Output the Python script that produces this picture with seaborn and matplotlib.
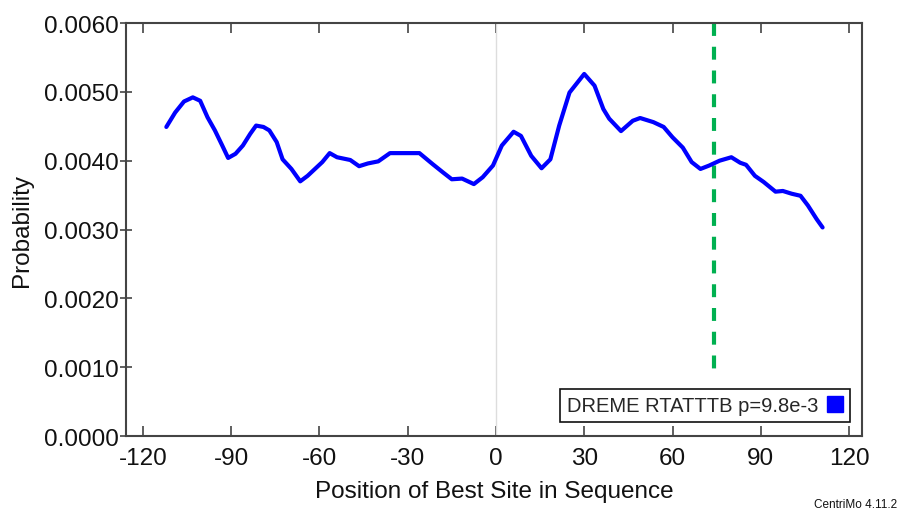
import matplotlib
matplotlib.use("Agg")
import matplotlib.pyplot as plt
import seaborn as sns
import pandas as pd
from matplotlib.patches import Patch

# ---- data ----
positions = [-112, -109, -106, -103, -100.5, -98, -95.5, -93, -91, -88.5,
             -86, -83.5, -81.5, -79, -77, -74.5, -72.5, -69.5, -66.5, -64,
             -62, -59, -56.5, -54, -49.5, -46.5, -43.5, -40, -36, -31.5,
             -26, -21.5, -18, -15, -11.5, -7.5, -4.5, -1, 2, 6,
             8.5, 12, 15.5, 18.5, 21.5, 25, 30, 33.5, 36.5, 38.5,
             42.5, 46.5, 49, 53.5, 57, 60, 63.5, 66.5, 69.5, 72.5,
             76, 80, 83, 85, 88, 91, 95, 97.5, 100.5, 103.5,
             106, 109, 111]
probability = [0.00449, 0.00470, 0.00486, 0.00492, 0.00487, 0.00463, 0.00444, 0.00422, 0.00404, 0.00410,
               0.00422, 0.00439, 0.00451, 0.00449, 0.00444, 0.00427, 0.00402, 0.00388, 0.00370, 0.00378,
               0.00386, 0.00398, 0.00411, 0.00405, 0.00401, 0.00392, 0.00396, 0.00399, 0.00411, 0.00411,
               0.00411, 0.00395, 0.00383, 0.00373, 0.00374, 0.00366, 0.00376, 0.00393, 0.00422, 0.00442,
               0.00436, 0.00407, 0.00389, 0.00402, 0.00451, 0.00499, 0.00526, 0.00509, 0.00475, 0.00461,
               0.00443, 0.00458, 0.00462, 0.00456, 0.00449, 0.00434, 0.00419, 0.00398, 0.00388, 0.00393,
               0.00400, 0.00405, 0.00397, 0.00394, 0.00378, 0.00369, 0.00355, 0.00356, 0.00352, 0.00349,
               0.00335, 0.00315, 0.00303]
series_label = "DREME RTATTTB p=9.8e-3"
best_site = 74
x_ticks = [-120, -90, -60, -30, 0, 30, 60, 90, 120]
y_ticks = [0.0, 0.001, 0.002, 0.003, 0.004, 0.005, 0.006]

sns.set_style("ticks")
plt.rcParams["font.family"] = ["Liberation Sans", "DejaVu Sans"]

df = pd.DataFrame({"pos": positions, "prob": probability})

fig = plt.figure(figsize=(9, 5.1), dpi=100)
ax = fig.add_axes([0.1397, 0.1431, 0.9578 - 0.1397, 0.9529 - 0.1431])

ax.axvline(0, color="#dddddd", lw=1, zorder=1)
sns.lineplot(data=df, x="pos", y="prob", color="#0000ff", lw=3, ax=ax, zorder=3,
             solid_joinstyle="round", solid_capstyle="round")
ax.plot([best_site, best_site], [0.006, 0.0009], color="#00b050", lw=3,
        dashes=(3.1, 2.6), zorder=2)

ax.set_xlim(-125.8, 124.4)
ax.set_ylim(0, 0.006)
ax.set_xticks(x_ticks)
ax.set_xticklabels([str(t) for t in x_ticks])
ax.set_yticks(y_ticks)
ax.set_yticklabels([f"{t:.4f}" for t in y_ticks])

for s in ax.spines.values():
    s.set_visible(True)
    s.set_color("#444444")
    s.set_linewidth(1.5)

ax.tick_params(axis="x", direction="in", length=7, width=1.2, color="#444444",
               top=True, bottom=True, labelsize=17.5, pad=8, labelcolor="#111111")
ax.tick_params(axis="y", direction="inout", length=8, width=1.2, color="#444444",
               right=False, labelsize=17.5, pad=1, labelcolor="#111111")

ax.set_xlabel("Position of Best Site in Sequence", fontsize=17.5, color="#111111", labelpad=8)
ax.set_ylabel("Probability", fontsize=17.5, color="#111111", labelpad=8)

handle = Patch(facecolor="#0000ff", edgecolor="#0000ff")
leg = ax.legend([handle], [series_label], loc="lower right",
                bbox_to_anchor=(0.9837, 0.0339), borderaxespad=0,
                markerfirst=False, fontsize=14.5, fancybox=False, framealpha=1,
                edgecolor="#111111", handlelength=0.8, handleheight=0.8,
                handletextpad=0.4, borderpad=0.35)
leg.get_frame().set_linewidth(1.2)

fig.text(0.997, 1 - 505 / 510, "CentriMo 4.11.2", ha="right", va="center", fontsize=8.5, color="#111111")

fig.savefig("out.png", dpi=100)
